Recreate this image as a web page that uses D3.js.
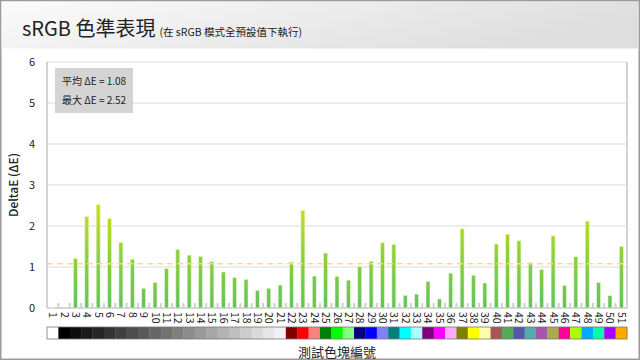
<!DOCTYPE html>
<html lang="zh-Hant">
<head>
  <meta charset="UTF-8">
  <script src="https://cdn.jsdelivr.net/npm/d3@7"></script>
  <title>sRGB 色準表現</title>
  <style>
    body { margin: 0; background: #fff; }
    svg text { font-family: "Noto Sans CJK TC", "Noto Sans", sans-serif; fill: #222; }
  </style>
</head>
<body>
  <script>
      // chart data
      var patches = d3.range(1, 52).map(String);
      var deltaE = [0.02, 0, 1.21, 2.23, 2.52, 2.18, 1.60, 1.19, 0.48, 0.62,
                    0.96, 1.43, 1.29, 1.26, 1.13, 0.88, 0.74, 0.70, 0.43, 0.48,
                    0.56, 1.12, 2.38, 0.78, 1.34, 0.77, 0.68, 1.01, 1.14, 1.59,
                    1.55, 0.31, 0.34, 0.65, 0.22, 0.85, 1.93, 0.80, 0.61, 1.56,
                    1.80, 1.64, 1.11, 0.94, 1.76, 0.55, 1.25, 2.12, 0.62, 0.30, 1.50];
      var swatchColors = ["#ffffff", "#000000", "#0d0d0d", "#1a1a1a", "#262626", "#333333", "#404040",
                          "#4d4d4d", "#595959", "#666666", "#737373", "#808080", "#8c8c8c", "#999999",
                          "#a6a6a6", "#b3b3b3", "#bfbfbf", "#cccccc", "#d9d9d9", "#e6e6e6", "#f2f2f2",
                          "#800000", "#ff0000", "#ff8080", "#008000", "#00ff00", "#80ff80",
                          "#000080", "#0000ff", "#8080ff", "#008080", "#00ffff", "#aaffff",
                          "#800080", "#ff00ff", "#ffaaff", "#808000", "#ffff00", "#ffffaa",
                          "#aa5555", "#55aa55", "#5555aa", "#55aaaa", "#aa55aa", "#aaaa55",
                          "#ff0099", "#aaff00", "#00aaff", "#00ffaa", "#aa00ff", "#ffaa00"];
      var yTicks = [0, 1, 2, 3, 4, 5, 6];
      var avgDE = 1.08, maxDE = 2.52;

      var width = 640, height = 360;
      var plotLeft = 47, plotRight = 627, plotTop = 62, plotBottom = 308;

      var svg = d3.select("body").append("svg")
        .attr("width", width)
        .attr("height", height);

      var defs = svg.append("defs");

      //header gradient
      var hg = defs.append("linearGradient").attr("id", "head")
        .attr("x1", 0).attr("y1", 0).attr("x2", 1).attr("y2", 0.3);
      hg.append("stop").attr("offset", 0).attr("stop-color", "#fbfbfb");
      hg.append("stop").attr("offset", 1).attr("stop-color", "#dedede");

      var x = d3.scaleBand().domain(patches).range([plotLeft, plotRight]);
      var y = d3.scaleLinear().domain([0, 6]).range([plotBottom, plotTop]);

      //bar gradient in user space so tall bars turn yellow at the top
      var bg = defs.append("linearGradient").attr("id", "bar")
        .attr("gradientUnits", "userSpaceOnUse")
        .attr("x1", 0).attr("x2", 0).attr("y1", y(0)).attr("y2", y(2.6));
      bg.append("stop").attr("offset", 0).attr("stop-color", "#62c35f");
      bg.append("stop").attr("offset", 0.5).attr("stop-color", "#8ed13a");
      bg.append("stop").attr("offset", 1).attr("stop-color", "#cfe20e");

      //frame and header
      svg.append("rect").attr("x", 0.75).attr("y", 0.75).attr("width", width - 1.5).attr("height", height - 1.5)
        .attr("fill", "#fff").attr("stroke", "#9a9a9a").attr("stroke-width", 1.5);
      svg.append("rect").attr("x", 1.5).attr("y", 1.5).attr("width", width - 3).attr("height", 47)
        .attr("fill", "url(#head)");

      var title = svg.append("text").attr("x", 22).attr("y", 36);
      title.append("tspan").attr("font-size", 20).text("sRGB 色準表現");
      title.append("tspan").attr("font-size", 10.5).attr("dx", 4).text("(在 sRGB 模式全預設值下執行)");

      //grid lines
      svg.append("g").selectAll("line").data(yTicks.slice(1)).enter().append("line")
        .attr("x1", plotLeft).attr("x2", plotRight)
        .attr("y1", function(d){ return y(d); }).attr("y2", function(d){ return y(d); })
        .attr("stroke", "#ececec").attr("stroke-width", 2);

      //y axis labels
      svg.append("g").selectAll("text").data(yTicks).enter().append("text")
        .attr("x", 32).attr("y", function(d){ return y(d) + 4; })
        .attr("text-anchor", "middle").attr("font-size", 11)
        .text(function(d){ return d; });

      svg.append("text")
        .attr("transform", "translate(18," + ((plotTop + plotBottom) / 2) + ") rotate(-90)")
        .attr("text-anchor", "middle").attr("font-size", 12).attr("font-weight", 500)
        .text("DeltaE (ΔE)");

      //plot border lines
      svg.append("line").attr("x1", plotLeft).attr("x2", plotLeft).attr("y1", plotTop).attr("y2", plotBottom)
        .attr("stroke", "#d4d4d4").attr("stroke-width", 2);
      svg.append("line").attr("x1", plotRight).attr("x2", plotRight).attr("y1", plotTop).attr("y2", plotBottom)
        .attr("stroke", "#d4d4d4").attr("stroke-width", 2);
      svg.append("line").attr("x1", plotLeft).attr("x2", plotRight).attr("y1", plotBottom).attr("y2", plotBottom)
        .attr("stroke", "#d4d4d4").attr("stroke-width", 2);

      //small tick stubs between categories
      svg.append("g").selectAll("rect").data(patches.slice(0, -1)).enter().append("rect")
        .attr("x", function(d){ return x(d) + x.step() - 1; })
        .attr("y", plotBottom - 5).attr("width", 2).attr("height", 4)
        .attr("fill", "#cfcfcf");

      //bars
      var barW = 4;
      svg.append("g").selectAll("rect").data(deltaE).enter().append("rect")
        .attr("x", function(d, i){ return x(patches[i]) + x.bandwidth() / 2 - barW / 2; })
        .attr("y", function(d){ return y(d); })
        .attr("width", barW)
        .attr("height", function(d){ return y(0) - y(d); })
        .attr("fill", "url(#bar)")
        .attr("stroke", "#eaf6d8").attr("stroke-width", 0.6);

      //average line
      svg.append("line").attr("x1", plotLeft).attr("x2", plotRight)
        .attr("y1", y(avgDE)).attr("y2", y(avgDE))
        .attr("stroke", "#ffd98a").attr("stroke-width", 1.5).attr("stroke-dasharray", "6,4");

      //stats box
      svg.append("rect").attr("x", 55).attr("y", 68).attr("width", 78).attr("height", 45)
        .attr("fill", "#d4d4d4");
      svg.append("text").attr("x", 62).attr("y", 85).attr("font-size", 10).attr("fill", "#333")
        .text("平均 ΔE = " + avgDE.toFixed(2));
      svg.append("text").attr("x", 62).attr("y", 104).attr("font-size", 10).attr("fill", "#333")
        .text("最大 ΔE = " + maxDE.toFixed(2));

      //x labels rotated
      svg.append("g").selectAll("text").data(patches).enter().append("text")
        .attr("transform", function(d){ return "translate(" + (x(d) + x.bandwidth() / 2 - 3.5) + ",312) rotate(90)"; })
        .attr("font-size", 10.5)
        .text(function(d){ return d; });

      //color swatches
      svg.append("g").selectAll("rect").data(patches).enter().append("rect")
        .attr("x", function(d){ return x(d); })
        .attr("y", 327).attr("width", x.step() + 0.3).attr("height", 12)
        .attr("fill", function(d, i){ return swatchColors[i]; });
      svg.append("rect").attr("x", plotLeft).attr("y", 327).attr("width", plotRight - plotLeft).attr("height", 12)
        .attr("fill", "none").attr("stroke", "#777").attr("stroke-width", 0.8);

      svg.append("text").attr("x", (plotLeft + plotRight) / 2).attr("y", 357)
        .attr("text-anchor", "middle").attr("font-size", 13)
        .text("測試色塊編號");
  </script>
</body>
</html>
